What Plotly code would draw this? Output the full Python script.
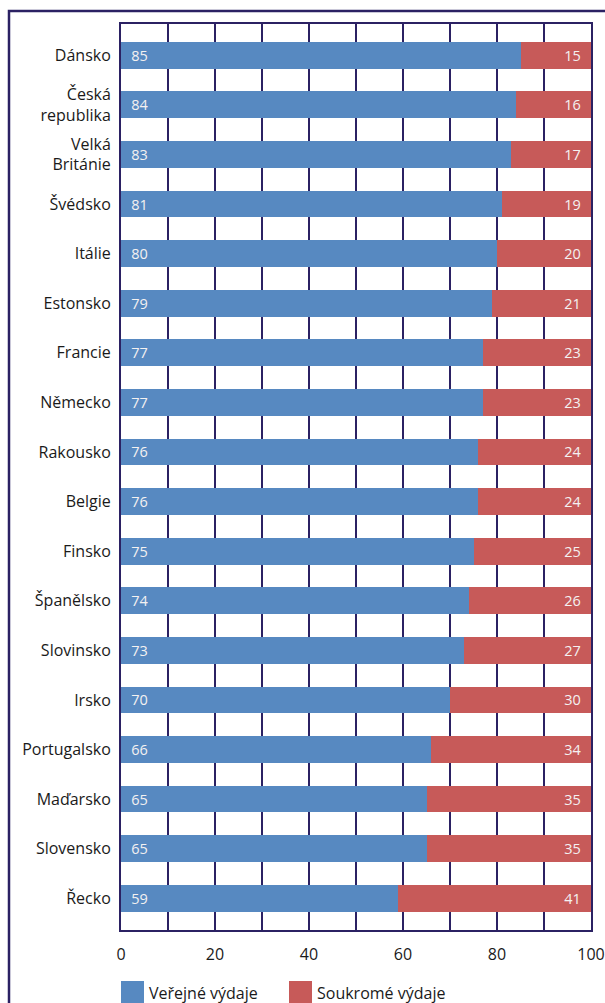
import plotly.graph_objects as go

countries = ["Dánsko", "Česká<br>republika", "Velká<br>Británie", "Švédsko", "Itálie", "Estonsko",
             "Francie", "Německo", "Rakousko", "Belgie", "Finsko", "Španělsko", "Slovinsko",
             "Irsko", "Portugalsko", "Maďarsko", "Slovensko", "Řecko"]
public = [85, 84, 83, 81, 80, 79, 77, 77, 76, 76, 75, 74, 73, 70, 66, 65, 65, 59]
private = [15, 16, 17, 19, 20, 21, 23, 23, 24, 24, 25, 26, 27, 30, 34, 35, 35, 41]
series_names = ["Veřejné výdaje", "Soukromé výdaje"]
x_ticks = [0, 20, 40, 60, 80, 100]

BLUE = "#5789c1"
RED = "#c75a59"
NAVY = "#2b2163"
FONT = "Open Sans"

W, H = 605, 1003
L, R, T, B = 121, 14, 24, 73
pw, ph = W - L - R, H - T - B

def px_x(x):
    return (x - L) / pw

def px_y(y):
    return (H - B - y) / ph

fig = go.Figure()
fig.add_trace(go.Bar(
    y=countries, x=public, orientation="h", name=series_names[0],
    marker=dict(color=BLUE, line=dict(width=0)),
    text=[f"\u2002{v}" for v in public], textposition="inside", insidetextanchor="start",
    textfont=dict(color="#f4f1f1", size=14.5, family=FONT), width=0.54,
    showlegend=False, hoverinfo="x+y"))
fig.add_trace(go.Bar(
    y=countries, x=private, orientation="h", name=series_names[1],
    marker=dict(color=RED, line=dict(width=0)),
    text=[f"{v}\u2002" for v in private], textposition="inside", insidetextanchor="end",
    textfont=dict(color="#f4f1f1", size=14.5, family=FONT), width=0.54,
    showlegend=False, hoverinfo="x+y"))

fig.update_layout(
    width=W, height=H, barmode="stack",
    margin=dict(l=L, r=R, t=T, b=B, autoexpand=False),
    paper_bgcolor="white", plot_bgcolor="white",
    font=dict(family=FONT, size=15, color="#1a1a1a"),
    bargap=0.46,
)
fig.update_xaxes(
    range=[0, 100], tickvals=x_ticks, showgrid=True, gridcolor=NAVY, gridwidth=1.5,
    minor=dict(dtick=10, showgrid=True, gridcolor=NAVY, gridwidth=1.5),
    showline=True, linecolor=NAVY, linewidth=1.5, mirror=True,
    ticks="outside", ticklen=9, tickcolor="rgba(0,0,0,0)", automargin=False,
    tickfont=dict(size=16, family=FONT, color="#1a1a1a"), zeroline=False, fixedrange=True)
fig.update_yaxes(
    categoryorder="array", categoryarray=countries, range=[17.64, -0.63],
    showgrid=False, showline=True, linecolor=NAVY, linewidth=2, mirror=True,
    ticks="outside", ticklen=5, tickcolor="rgba(0,0,0,0)", automargin=False,
    tickfont=dict(size=16, family=FONT, color="#1a1a1a"), fixedrange=True)

# outer frame
fig.add_shape(type="rect", xref="paper", yref="paper",
              x0=px_x(9), x1=px_x(620), y0=px_y(1020), y1=px_y(11),
              line=dict(color=NAVY, width=2.5), fillcolor="rgba(0,0,0,0)", layer="below")

# legend
legend_items = [(121, BLUE, series_names[0]), (289, RED, series_names[1])]
for x0, col, name in legend_items:
    fig.add_shape(type="rect", xref="paper", yref="paper",
                  x0=px_x(x0), x1=px_x(x0 + 23), y0=px_y(1004), y1=px_y(981),
                  fillcolor=col, line=dict(width=0))
    fig.add_annotation(xref="paper", yref="paper", x=px_x(x0 + 26), y=px_y(993),
                       text=name, showarrow=False, xanchor="left", yanchor="middle",
                       font=dict(size=16, family=FONT, color="#1a1a1a"))

fig.write_html("out.html")
